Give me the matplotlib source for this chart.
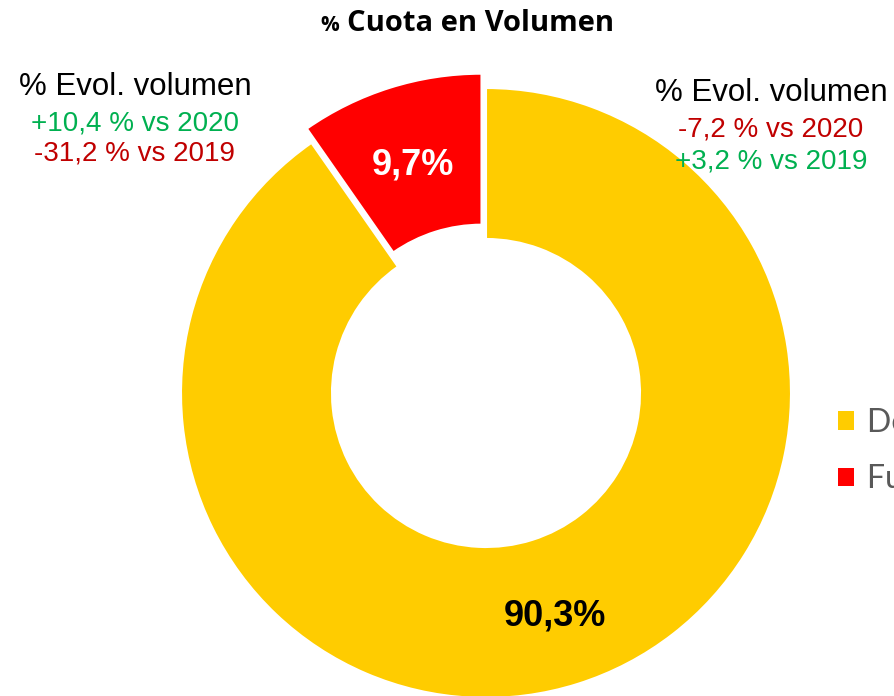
import matplotlib
matplotlib.use("Agg")
import matplotlib.pyplot as plt

# datos del gráfico
segmentos = ["Fuera del hogar", "Dentro del hogar"]
cuota = [9.7, 90.3]
colores = ["#FF0000", "#FFCC00"]
evol_titulo = "% Evol. volumen"
evol_dentro = ["-7,2 % vs 2020", "+3,2 % vs 2019"]
evol_fuera = ["+10,4 % vs 2020", "-31,2 % vs 2019"]
VERDE, ROJO = "#00B050", "#C00000"
W, H = 894, 696


def _col(txt):
    return VERDE if txt.startswith("+") else ROJO


def _fmt(p):
    return f"{p:.1f}%".replace(".", ",")


fig = plt.figure(figsize=(W / 100, H / 100), dpi=100)
ax = fig.add_axes([0, 0, 1, 1])

cx, cy, R = 486, H - 393, 305
wedges, _, pcts = ax.pie(cuota, colors=colores, startangle=90, counterclock=True,
                         explode=[15, 0], center=(cx, cy), radius=R,
                         autopct=_fmt, pctdistance=0.75, frame=True,
                         wedgeprops=dict(width=151, edgecolor="white", linewidth=1.5),
                         textprops=dict(family="Liberation Sans", fontweight="bold",
                                        fontsize=26))
ax.set_xlim(0, W); ax.set_ylim(0, H); ax.axis("off")
pcts[0].set_color("white")
pcts[1].set_color("black")
for t in pcts:   # la coma baja el centro de la caja: compensar
    x, y = t.get_position()
    t.set_position((x, y - 5))

# título
fig.text(347, H - 31, "Cuota en Volumen", fontsize=21, fontweight="bold",
         family="Open Sans", ha="left", va="baseline", transform=None)
fig.text(339, H - 31, "%", fontsize=15, fontweight="bold",
         family="Open Sans", ha="right", va="baseline", transform=None)

# evolución (izquierda: fuera del hogar, derecha: dentro del hogar)
kw = dict(family="Liberation Sans", ha="center", va="center")
ax.text(135, H - 87, evol_titulo, fontsize=22.5, color="black", **kw)
for y, t in zip([123, 154], evol_fuera):
    ax.text(135, H - y, t, fontsize=20, color=_col(t), **kw)
ax.text(771, H - 93, evol_titulo, fontsize=22.5, color="black", **kw)
for y, t in zip([129, 162], evol_dentro):
    ax.text(771, H - y, t, fontsize=20, color=_col(t), **kw)

# leyenda (cortada por el borde derecho, como en el original)
leg = ax.legend([wedges[1], wedges[0]], [segmentos[1], segmentos[0]],
                loc="upper left", bbox_to_anchor=(825 / W, 1 - 395 / H),
                frameon=False, handlelength=0.5, handleheight=0.5,
                handletextpad=0.4, labelspacing=0.82, borderaxespad=0,
                prop=dict(family="Lato", size=23))
for t in leg.get_texts():
    t.set_color("#595959")
for h in leg.legend_handles:
    h.set_edgecolor("none")

fig.savefig("out.png", dpi=100)
